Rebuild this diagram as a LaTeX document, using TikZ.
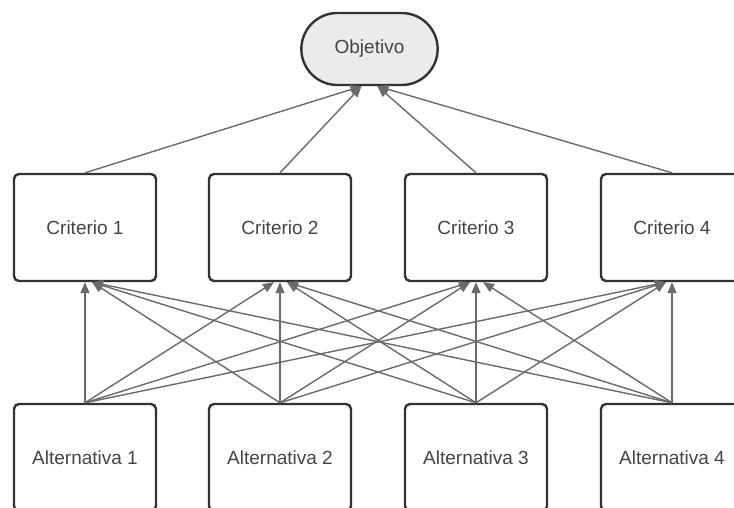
\documentclass[tikz,border=0pt]{standalone}
\usepackage{fontspec}
\setmainfont{Liberation Sans}
\usepackage{xcolor}
\usepackage{tikz}
\usetikzlibrary{arrows.meta,shapes.misc,positioning}
\tikzset{>={Triangle[length=11pt,width=9pt]}}
\definecolor{boxline}{HTML}{333333}
\definecolor{linkgray}{HTML}{6A6A6A}
\definecolor{txtgray}{HTML}{444444}
\definecolor{goalfill}{HTML}{EBEBEB}

\begin{document}
\begin{tikzpicture}[x=1pt,y=-1pt,
                          crit/.style={draw=boxline, line width=2.4pt, rounded corners=5pt,
                                       minimum width=142pt, minimum height=107pt,
                                       text=txtgray, font=\fontsize{19}{22}\selectfont},
                          goal/.style={draw=boxline, line width=2.4pt, rounded rectangle, fill=goalfill,
                                       minimum width=143pt, minimum height=72pt,
                                       text=txtgray, font=\fontsize{19}{22}\selectfont},
                          link/.style={line width=1.4pt, linkgray, ->},
                         ]

\useasboundingbox (0,0) rectangle (734,508);
\clip (0,0) rectangle (734,508);

\node[goal] (obj) at (369.5,49) {Objetivo};

\node[crit] (crit1) at (85,227.5) {Criterio 1};
\node[crit] (crit2) at (280,227.5) {Criterio 2};
\node[crit] (crit3) at (476,227.5) {Criterio 3};
\node[crit] (crit4) at (672,227.5) {Criterio 4};

\node[crit] (alt1) at (85,457.5) {Alternativa 1};
\node[crit] (alt2) at (280,457.5) {Alternativa 2};
\node[crit] (alt3) at (476,457.5) {Alternativa 3};
\node[crit] (alt4) at (672,457.5) {Alternativa 4};

\draw[link] (crit1.north) -- ([xshift=-8pt]obj.south);
\draw[link] (crit2.north) -- ([xshift=-8pt]obj.south);
\draw[link] (crit3.north) -- ([xshift=8pt]obj.south);
\draw[link] (crit4.north) -- ([xshift=8pt]obj.south);

\draw[link] (alt1.north) -- (crit1.south);
\draw[link] (alt1.north) -- ([xshift=-6pt]crit2.south);
\draw[link] (alt1.north) -- ([xshift=-6pt]crit3.south);
\draw[link] (alt1.north) -- ([xshift=-6pt]crit4.south);

\draw[link] (alt2.north) -- ([xshift=7pt]crit1.south);
\draw[link] (alt2.north) -- (crit2.south);
\draw[link] (alt2.north) -- ([xshift=-6pt]crit3.south);
\draw[link] (alt2.north) -- ([xshift=-6pt]crit4.south);

\draw[link] (alt3.north) -- ([xshift=7pt]crit1.south);
\draw[link] (alt3.north) -- ([xshift=7pt]crit2.south);
\draw[link] (alt3.north) -- (crit3.south);
\draw[link] (alt3.north) -- ([xshift=-6pt]crit4.south);

\draw[link] (alt4.north) -- ([xshift=7pt]crit1.south);
\draw[link] (alt4.north) -- ([xshift=7pt]crit2.south);
\draw[link] (alt4.north) -- ([xshift=7pt]crit3.south);
\draw[link] (alt4.north) -- (crit4.south);

\end{tikzpicture}
\end{document}
